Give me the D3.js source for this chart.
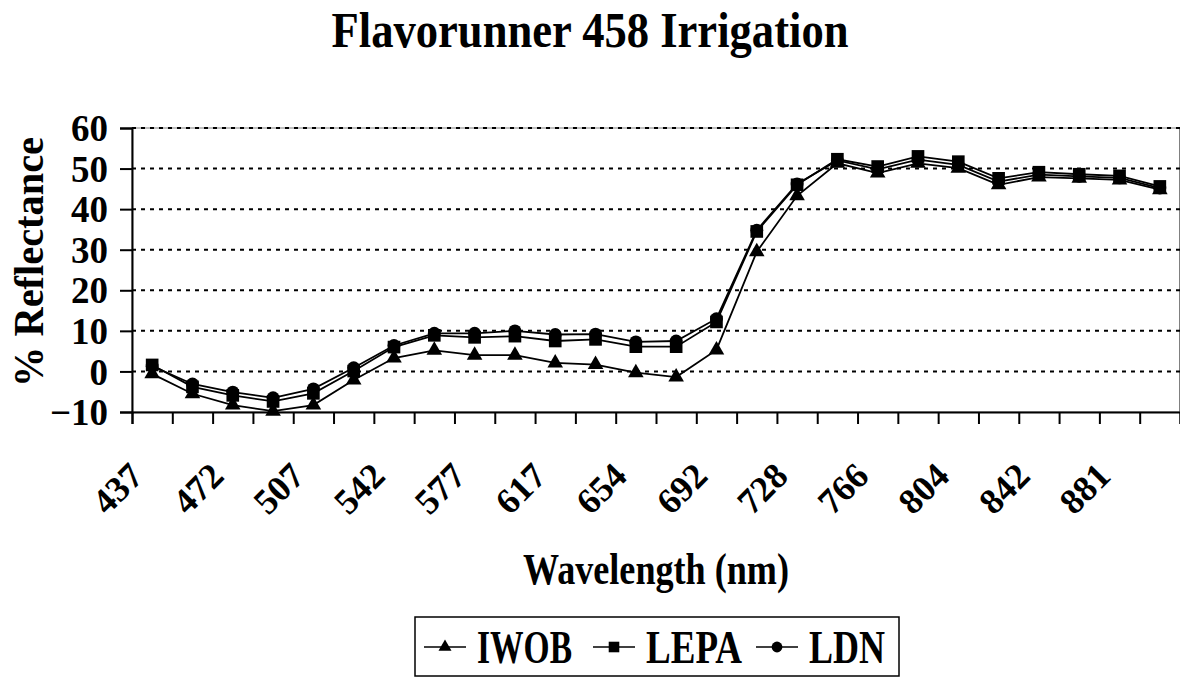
<!DOCTYPE html>
<html>
<head>
<meta charset="utf-8">
<script src="https://cdn.jsdelivr.net/npm/d3@7"></script>
<style>
  body { margin: 0; background: #fff; }
  text { font-family: "Liberation Serif", "Times New Roman", serif; font-weight: bold; fill: #000; }
</style>
</head>
<body>
<div id="chart"></div>
<script>
// wavelength categories (only every other one is labelled on the axis)
const wavelengths = [437, 455, 472, 490, 507, 525, 542, 560, 577, 597, 617, 636, 654,
  673, 692, 710, 728, 747, 766, 785, 804, 823, 842, 862, 881, 900];
const labelledWavelengths = [437, 472, 507, 542, 577, 617, 654, 692, 728, 766, 804, 842, 881];

// % reflectance per treatment
const iwob = [-0.6, -5.5, -8.3, -9.8, -8.3, -2.1, 3.3, 5.2, 4.0, 4.0, 2.1, 1.7, -0.3,
  -1.4, 5.3, 29.5, 43.3, 51.3, 48.9, 51.3, 50.1, 46.0, 47.9, 47.6, 47.2, 44.8];
const lepa = [1.6, -3.8, -5.9, -7.4, -5.4, 0.1, 6.0, 8.9, 8.4, 8.7, 7.5, 7.9, 6.1,
  6.1, 12.2, 34.5, 46.0, 52.3, 50.5, 53.0, 51.7, 47.6, 49.1, 48.6, 48.2, 45.6];
const ldn = [1.3, -3.1, -5.1, -6.5, -4.3, 0.9, 6.4, 9.4, 9.4, 10.0, 9.1, 9.2, 7.3,
  7.5, 13.0, 34.8, 46.2, 52.0, 49.8, 52.2, 50.9, 46.8, 48.5, 48.1, 47.7, 45.2];

const yTicks = [-10, 0, 10, 20, 30, 40, 50, 60];
const seriesNames = ["IWOB", "LEPA", "LDN"];

// dimensions
const W = 1180, H = 677;
const margin = { top: 128, right: 0, bottom: 265, left: 132 },
  width = W - margin.left - margin.right,
  height = H - margin.top - margin.bottom;

const svg = d3.select("#chart")
  .append("svg")
  .attr("width", W)
  .attr("height", H);

const g = svg.append("g")
  .attr("transform", `translate(${margin.left},${margin.top})`);

// scales
const x = d3.scaleBand().domain(wavelengths).range([0, width]).padding(0);
const xIdx = d3.scaleLinear().domain([0, wavelengths.length]).range([0, width]);
const y = d3.scaleLinear().domain([-10, 60]).range([height, 0]);
const cx = d => x(d) + x.bandwidth() / 2;

// plot area frame
g.append("rect")
  .attr("x", 0).attr("y", 0)
  .attr("width", width - 0.5).attr("height", height)
  .attr("fill", "none")
  .attr("stroke", "#808080")
  .attr("stroke-width", 1);

// dotted gridlines
g.selectAll(".grid")
  .data(yTicks.filter(v => v > -10))
  .join("line")
  .attr("x1", 0).attr("x2", width)
  .attr("y1", d => y(d)).attr("y2", d => y(d))
  .attr("stroke", "#000")
  .attr("stroke-width", 2)
  .attr("stroke-dasharray", "4,5");

// y axis
const yAxis = g.append("g")
  .call(d3.axisLeft(y).tickValues(yTicks).tickSize(12).tickPadding(12));
yAxis.select(".domain").attr("stroke-width", 2);
yAxis.selectAll(".tick line").attr("stroke-width", 2);
yAxis.selectAll(".tick text")
  .attr("font-family", "Liberation Serif")
  .attr("font-weight", "bold")
  .attr("font-size", 37)
  .attr("dy", "0.34em");

// x axis (ticks between categories)
const xAxis = g.append("g")
  .attr("transform", `translate(0,${height})`)
  .call(d3.axisBottom(xIdx).tickValues(d3.range(wavelengths.length + 1)).tickSize(12).tickFormat(""));
xAxis.select(".domain").attr("stroke-width", 2);
xAxis.selectAll(".tick line").attr("stroke-width", 2);

// rotated category labels
g.selectAll(".xlab")
  .data(labelledWavelengths)
  .join("text")
  .attr("class", "xlab")
  .attr("transform", d => `translate(${cx(d) - 7},${height + 66}) rotate(-45)`)
  .attr("text-anchor", "end")
  .attr("font-size", 36)
  .text(d => d);

// lines and markers
const data = [iwob, lepa, ldn];
const symbols = [d3.symbolTriangle, d3.symbolSquare, d3.symbolCircle];
const symSizes = [105, 160, 130];

const line = d3.line()
  .x((d, i) => cx(wavelengths[i]))
  .y(d => y(d));

data.forEach((vals, s) => {
  g.append("path")
    .datum(vals)
    .attr("fill", "none")
    .attr("stroke", "#000")
    .attr("stroke-width", 1.8)
    .attr("d", line);

  g.selectAll(".m" + s)
    .data(vals)
    .join("path")
    .attr("transform", (d, i) => `translate(${cx(wavelengths[i])},${y(d)})`)
    .attr("d", d3.symbol().type(symbols[s]).size(symSizes[s]))
    .attr("fill", "#000");
});

// title
svg.append("text")
  .attr("x", 590).attr("y", 47)
  .attr("text-anchor", "middle")
  .attr("font-size", 50)
  .attr("textLength", 517)
  .attr("lengthAdjust", "spacingAndGlyphs")
  .text("Flavorunner 458 Irrigation");

// axis titles
svg.append("text")
  .attr("x", margin.left + width / 2).attr("y", 584)
  .attr("text-anchor", "middle")
  .attr("font-size", 44)
  .attr("textLength", 266)
  .attr("lengthAdjust", "spacingAndGlyphs")
  .text("Wavelength (nm)");

svg.append("text")
  .attr("transform", `translate(43,${margin.top + height / 2 - 8}) rotate(-90)`)
  .attr("text-anchor", "middle")
  .attr("font-size", 42)
  .attr("textLength", 250)
  .attr("lengthAdjust", "spacingAndGlyphs")
  .text("% Reflectance");

// legend
const legend = svg.append("g");
legend.append("rect")
  .attr("x", 415).attr("y", 617)
  .attr("width", 484).attr("height", 59)
  .attr("fill", "#fff")
  .attr("stroke", "#000")
  .attr("stroke-width", 1.5);

const legX = [424, 593, 756];
const legTextW = [95, 96, 76];
seriesNames.forEach((name, s) => {
  const item = legend.append("g").attr("transform", `translate(${legX[s]},647)`);
  item.append("line")
    .attr("x1", 0).attr("x2", 42)
    .attr("stroke", "#000").attr("stroke-width", 1.5);
  item.append("path")
    .attr("transform", "translate(21,0)")
    .attr("d", d3.symbol().type(symbols[s]).size(symSizes[s] * 0.7))
    .attr("fill", "#000");
  item.append("text")
    .attr("x", 53).attr("y", 16)
    .attr("font-size", 46)
    .attr("textLength", legTextW[s])
    .attr("lengthAdjust", "spacingAndGlyphs")
    .text(name);
});
</script>
</body>
</html>
